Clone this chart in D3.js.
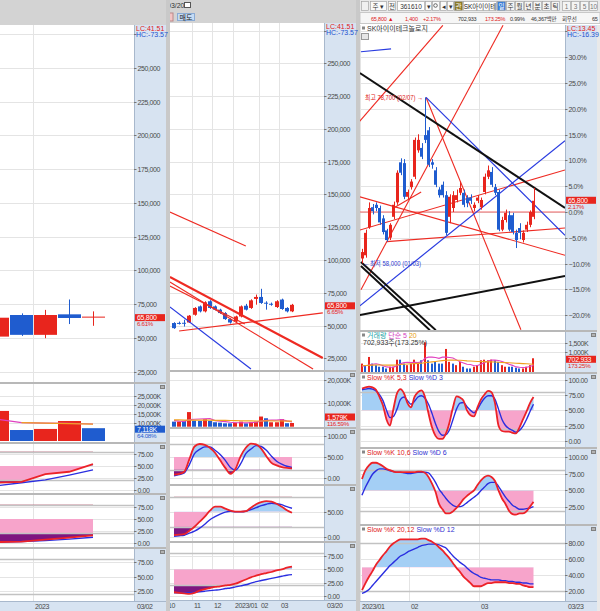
<!DOCTYPE html>
<meta charset="utf-8">
<script src="https://d3js.org/d3.v7.min.js"></script>
<style>
  body { margin: 0; background: #fff; }
  text { font-family: "Liberation Sans", "Noto Sans CJK KR", sans-serif; font-size: 7px; }
  .lbl { fill: #4a4a4a; letter-spacing: -0.4px; }
</style>
<div id="chart"></div>
<script>
// ---------- data: left (long period) ----------
var lOpen  = [51000, 67000, 52300, 67500, 65300];
var lHigh  = [66500, 68200, 70800, 78500, 69700];
var lLow   = [50500, 51500, 49800, 60300, 59000];
var lClose = [65000, 52300, 67000, 64800, 65800];
var lVol   = [16700, 6100, 6700, 11100, 7118];
var lVolUp = [1, 0, 1, 1, 0];
var lVolMa5  = [12100, 10200, 9950, 9750, 9450];
var lVolMa20 = [null, 10200, 9900, 9700, 9400];
var lK1 = [15, 17, 33, 38, 54], lD1 = [9, 15, 21, 31, 42];
var lK2 = [2, 3, 7, 11, 16],    lD2 = [2, 3, 5, 8, 12];

// ---------- data: middle (weekly) ----------
var mOpen  = [51900, 52000, 52100, 52300, 58200, 64600, 60800, 68500, 64600, 62100, 59500, 54900, 53100, 56900, 65100, 63400, 70300, 71800, 67400, 66600, 64100, 69800, 63400, 60800];
var mHigh  = [52500, 53000, 54400, 58000, 64000, 65300, 68500, 69300, 65300, 62800, 60200, 55600, 57500, 65300, 66500, 70000, 73600, 78000, 68500, 67500, 69300, 70500, 64000, 66500];
var mLow   = [47500, 50800, 49200, 52000, 57500, 60000, 60000, 62700, 61500, 58900, 54300, 51500, 52300, 56200, 61500, 62700, 65900, 66500, 62100, 65100, 63400, 62000, 60000, 60200];
var mClose = [48000, 51700, 51800, 57500, 63400, 60800, 67700, 63400, 62100, 59500, 54900, 52300, 56900, 64600, 62100, 69200, 71800, 67200, 67100, 66300, 68500, 62600, 60800, 65800];
var mVol     = [2170, 2170, 2480, 6260, 2610, 2480, 3190, 2480, 1900, 1740, 1450, 1450, 1740, 2170, 1450, 1900, 2170, 4350, 3620, 1900, 1900, 3190, 1500, 1579];
var mVolUp   = [0, 1, 0, 1, 0, 0, 1, 0, 0, 0, 0, 0, 1, 1, 0, 1, 1, 1, 0, 1, 1, 1, 0, 1];
var mVolMa5  = [2600, 2400, 2300, 3000, 3200, 3300, 3400, 3500, 2600, 2400, 2200, 1900, 1700, 1700, 1650, 1750, 1900, 2350, 2700, 2800, 2800, 3000, 2500, 2100];
var mVolMa20 = [2900, 2900, 2850, 2850, 2850, 2800, 2800, 2800, 2750, 2750, 2700, 2650, 2600, 2550, 2500, 2500, 2450, 2450, 2500, 2500, 2450, 2450, 2400, 2400];
var mK1 = [8, 10, 15, 45, 75, 81, 79, 72, 60, 42, 24, 10, 22, 52, 72, 82, 80, 70, 52, 36, 30, 26, 24, 23];
var mD1 = [5, 8, 12, 32, 58, 68, 74, 74, 66, 56, 42, 25, 19, 34, 58, 69, 77, 75, 66, 52, 40, 33, 28, 25];
var mK2 = [3, 4, 5, 12, 20, 30, 40, 52, 60, 60, 56, 52, 50, 50, 51, 58, 65, 69, 71, 70, 66, 60, 53, 48];
var mD2 = [1, 2, 3, 7, 11, 17, 25, 34, 40, 45, 49, 51, 50, 50, 51, 54, 58, 62, 65, 67, 66, 64, 60, 57];
var mK3 = [7, 6, 5, 4, 6, 10, 13, 15, 17, 18, 20, 21, 23, 27, 31, 35, 38, 41, 43, 45, 48, 50, 53, 55];
var mD3 = [6, 6, 6, 6, 7, 8, 9, 10, 11, 12, 14, 15, 17, 19, 21, 24, 27, 29, 31, 33, 35, 37, 39, 40];
// trend lines: [index1, price1, index2, price2]
var mRedLines  = [[-0.8, 136600, 14.0, 110600], [-0.8, 83200, 27.1, 16800], [-0.8, 80100, 13.8, 51200], [1.0, 45800, 29.0, 59600]];
var mRedThick  = [[-0.8, 87000, 29.0, 25200]];
var mBlueLines = [[-0.8, 64100, 15.0, 16800]];

// ---------- data: right (daily) ----------
var rOpen  = [58600, 59000, 62500, 65000, 65300, 64900, 63600, 62100, 61200, 63800, 65600, 70600, 70500, 66300, 67500, 68800, 72100, 72400, 74000, 74600, 70600, 69600, 67200, 67800, 66500, 63800, 64900, 65900, 66800, 66800, 66200, 66200, 64900, 65800, 65000, 66900, 68800, 69400, 67500, 66900, 62200, 63400, 64000, 64000, 61800, 62400, 60900, 62200, 62800, 63800];
var rHigh  = [59800, 62200, 65600, 65400, 65600, 65200, 64000, 62300, 63000, 65700, 69600, 71100, 71000, 67200, 68500, 73700, 74100, 73000, 78700, 75000, 71000, 70000, 67500, 68200, 67000, 66600, 67000, 67200, 68200, 67200, 66500, 66600, 65600, 66500, 66200, 69200, 70200, 70000, 67900, 67200, 63800, 64700, 64500, 64300, 62200, 63000, 62100, 63200, 64600, 67400];
var rLow   = [58000, 58700, 62300, 64100, 64500, 62800, 61600, 60700, 60900, 63500, 65300, 69000, 66000, 66000, 67200, 68500, 71800, 71000, 73000, 70000, 69800, 67500, 66200, 66200, 61500, 63000, 64400, 65600, 66500, 65000, 65000, 65400, 64500, 65500, 64700, 66600, 68500, 67500, 66500, 62000, 62000, 63100, 62000, 61600, 59900, 61000, 60600, 61900, 62500, 63500];
var rClose = [59400, 61800, 64900, 64500, 64900, 63100, 61900, 60900, 62800, 65300, 69300, 69300, 66300, 66900, 68200, 73400, 73400, 71300, 73400, 70300, 70300, 67800, 66500, 66500, 61800, 66300, 66500, 66500, 67400, 65300, 65500, 65800, 65300, 66200, 65900, 68800, 69600, 67800, 66800, 62200, 63400, 64300, 62200, 61900, 60900, 61800, 61800, 62800, 64400, 65800];
var rVol     = [430, 350, 770, 430, 350, 270, 270, 180, 270, 270, 630, 630, 430, 350, 430, 630, 430, 600, 1520, 600, 430, 520, 430, 430, 1180, 520, 430, 350, 520, 270, 180, 180, 270, 350, 600, 630, 600, 630, 600, 520, 350, 270, 270, 270, 220, 180, 180, 270, 350, 703];
var rVolUp   = [1, 0, 1, 0, 0, 0, 0, 0, 1, 1, 1, 0, 0, 1, 1, 1, 1, 0, 1, 0, 0, 0, 0, 0, 1, 1, 0, 1, 1, 0, 0, 0, 1, 1, 1, 1, 1, 1, 0, 0, 1, 1, 0, 0, 0, 0, 1, 1, 1, 1];
var rVolMa5  = [300, 320, 360, 400, 420, 380, 320, 260, 240, 250, 320, 420, 480, 500, 490, 500, 480, 520, 700, 760, 760, 740, 700, 760, 760, 740, 720, 620, 520, 460, 400, 380, 320, 330, 400, 480, 560, 610, 610, 590, 540, 470, 400, 340, 260, 240, 230, 240, 280, 350];
var rVolMa20 = [320, 330, 340, 350, 360, 360, 360, 350, 350, 350, 360, 380, 400, 410, 420, 430, 440, 450, 480, 500, 520, 540, 560, 580, 600, 610, 610, 600, 600, 590, 570, 560, 550, 540, 540, 530, 520, 520, 510, 500, 490, 480, 470, 460, 450, 440, 430, 420, 410, 400];
var rK1 = [86, 88, 89, 88, 84, 72, 58, 35, 25, 53, 78, 85, 78, 62, 55, 72, 80, 83, 72, 45, 22, 8, 3, 3, 12, 30, 55, 73, 71, 66, 50, 42, 40, 55, 68, 76, 82, 80, 62, 25, 16, 15, 15, 13, 12, 22, 35, 48, 62, 72];
var rD1 = [84, 85, 86, 85, 82, 76, 66, 50, 38, 40, 52, 68, 72, 66, 60, 65, 72, 74, 70, 60, 45, 28, 15, 9, 10, 18, 35, 52, 62, 63, 56, 50, 46, 52, 62, 70, 74, 74, 68, 52, 35, 25, 20, 17, 14, 17, 24, 35, 48, 60];
var rK2 = [67, 80, 87, 91, 91, 89, 86, 82, 80, 78, 77, 77, 77, 77, 77, 77, 78, 78, 76, 70, 60, 48, 30, 22, 16, 16, 19, 24, 30, 37, 42, 46, 50, 58, 65, 70, 72, 70, 64, 50, 38, 30, 20, 15, 14, 16, 16, 19, 26, 33];
var rD2 = [43, 55, 65, 74, 79, 82, 82, 81, 79, 78, 77, 77, 76, 75, 75, 76, 77, 77, 77, 76, 70, 62, 52, 45, 38, 32, 28, 26, 26, 28, 32, 36, 40, 44, 50, 55, 60, 62, 62, 56, 48, 40, 34, 28, 25, 22, 22, 23, 24, 26];
var rK3 = [21, 30, 38, 45, 53, 59, 65, 70, 76, 80, 83, 85, 85, 85, 85, 85, 85, 86, 86, 84, 82, 79, 75, 71, 66, 61, 55, 49, 44, 38, 34, 30, 26, 26, 26, 28, 30, 30, 31, 31, 31, 31, 30, 30, 29, 29, 27, 26, 25, 25];
var rD3 = [17, 19, 22, 27, 32, 37, 42, 47, 52, 56, 60, 64, 66, 69, 71, 73, 75, 77, 78, 79, 79, 79, 78, 76, 74, 69, 64, 60, 56, 53, 49, 45, 42, 40, 37, 36, 35, 34, 34, 34, 33, 33, 32, 32, 31, 31, 30, 30, 29, 29];
var rBase = 64400; // previous close = 0.0%
var rRedLines   = [[-1.1, 75500, 23.1, 87700], [-0.3, 54700, 40.3, 87700], [18.3, 78700, 45.4, 49700], [-0.6, 66300, 58, 59000], [7.1, 60700, 58, 62400], [-0.6, 62150, 58, 69650], [9.4, 65000, 16.9, 66900]];
var rBlueLines  = [[18.3, 78700, 58, 61500], [-0.6, 52700, 58, 73300], [-0.3, 84400, 8.3, 84750]];
var rBlackLines = [[-0.6, 81750, 58, 64900], [-0.6, 51550, 58, 56400], [-0.3, 58150, 21.1, 49650], [-0.3, 57650, 19.4, 49650]];

// tick labels / month marks
var priceTicks = d3.range(25000, 275001, 25000);
var pctTicks = d3.range(-20, 36, 5);
var lMonthIdx = [2], lMonthLbl = ["2023"];
var mMonthIdx = [-1, 4, 8, 12, 17, 21], mMonthLbl = ["10", "11", "12", "2023/01", "02", "03"];
var rMonthIdx = [0, 14, 34], rMonthLbl = ["2023/01", "02", "03"];

// ---------- layout ----------
var UP = "#e8251d", DN = "#1f5ccf", STRIP = "#d7e3f1", GRID = "#e4e4e4", LEVEL = "#c2c2c2", SEP = "#b8b8b8";
var L = {x0: 0,   x1: 134, s1: 166, price: [25, 382], vol: [384, 442], st: [[444, 493], [495, 547], [549, 601]], axis: [601, 611]};
var M = {x0: 170, x1: 324, s1: 356, price: [23, 370], vol: [372, 427], st: [[429, 484], [486, 541], [543, 600]], axis: [600, 611]};
var R = {x0: 360, x1: 565, s1: 597, price: [25, 330], vol: [332, 372], st: [[374, 447], [449, 524], [526, 601]], axis: [601, 611]};

var xL = d3.scaleLinear().domain([0, 4]).range([-2.3, 93]);
var xM = d3.scaleLinear().domain([0, 23]).range([174, 292]);
var xR = d3.scaleLinear().domain([0, 49]).range([362, 533.5]);

var yLp = d3.scaleLinear().domain([25000, 250000]).range([371.7, 68]);
var yLv = d3.scaleLinear().domain([0, 25000]).range([441, 396]);
var yLs = [d3.scaleLinear().domain([0, 75]).range([490, 454]),
           d3.scaleLinear().domain([0, 75]).range([543, 507]),
           d3.scaleLinear().domain([25, 75]).range([591, 562])];
var yMp = d3.scaleLinear().domain([25000, 250000]).range([358.3, 63.3]);
var yMv = d3.scaleLinear().domain([0, 20000]).range([426.7, 380]);
var yMs = [d3.scaleLinear().domain([0, 100]).range([478, 436]),
           d3.scaleLinear().domain([0, 100]).range([536.7, 486.7]),
           d3.scaleLinear().domain([0, 75]).range([596, 556])];
var yRp = d3.scaleLinear().domain([rBase * 0.8, rBase * 1.3]).range([315.2, 57.2]);
var yRv = d3.scaleLinear().domain([0, 1500]).range([372, 342.7]);
var yRs = [d3.scaleLinear().domain([0, 100]).range([440.7, 380]),
           d3.scaleLinear().domain([25, 100]).range([507.3, 456.7]),
           d3.scaleLinear().domain([20, 80]).range([591, 543.3])];

var svg = d3.select("#chart").append("svg").attr("width", 600).attr("height", 611);
svg.append("rect").attr("width", 600).attr("height", 611).attr("fill", "#fff");
var defs = svg.append("defs");
var clipN = 0;
function clip(x, y, w, h) {
  var id = "cp" + (clipN++);
  defs.append("clipPath").attr("id", id).append("rect")
    .attr("x", x).attr("y", y).attr("width", w).attr("height", Math.max(0, h));
  return "url(#" + id + ")";
}
function plotG(P, yr) {
  return svg.append("g").attr("clip-path", clip(P.x0, yr[0], P.x1 - P.x0, yr[1] - yr[0]));
}

function frame(P) {
  svg.append("rect").attr("x", P.x1).attr("y", P.price[0]).attr("width", P.s1 - P.x1)
    .attr("height", P.axis[0] - P.price[0]).attr("fill", STRIP);
  svg.append("rect").attr("x", P.x0).attr("y", P.axis[0]).attr("width", P.s1 - P.x0)
    .attr("height", P.axis[1] - P.axis[0]).attr("fill", STRIP);
  svg.append("line").attr("x1", P.x1 + 0.5).attr("x2", P.x1 + 0.5)
    .attr("y1", P.price[0]).attr("y2", P.axis[0]).attr("stroke", "#a8b8cc");
}
function separators(P) {
  [P.price[1], P.vol[1], P.st[0][1], P.st[1][1]].forEach(function(y) {
    svg.append("rect").attr("x", P.x0).attr("y", y).attr("width", P.s1 - P.x0).attr("height", 2).attr("fill", SEP);
  });
  svg.append("line").attr("x1", P.x0).attr("x2", P.s1).attr("y1", P.axis[0] + 0.5).attr("y2", P.axis[0] + 0.5)
    .attr("stroke", "#a8b8cc");
  [P.vol[0], P.st[0][0], P.st[1][0], P.st[2][0]].forEach(function(y) {
    svg.append("rect").attr("x", P.s1 - 6).attr("y", y + 1).attr("width", 5).attr("height", 4).attr("fill", "#808080");
    svg.append("line").attr("x1", P.s1 - 5).attr("x2", P.s1 - 2).attr("y1", y + 3).attr("y2", y + 3)
      .attr("stroke", "#fff").attr("stroke-width", 0.8);
  });
}
function months(P, xs, off, idx, lbl, endLbl) {
  var g = svg.append("g").attr("clip-path", clip(P.x0, 0, P.x1 - P.x0, 611));
  idx.forEach(function(i, k) {
    var x = Math.round(xs(i) + off) + 0.5;
    g.append("line").attr("x1", x).attr("x2", x).attr("y1", P.price[0]).attr("y2", P.axis[0])
      .attr("stroke", GRID);
    g.append("text").attr("class", "lbl").attr("x", x + 1.5).attr("y", P.axis[0] + 7.5).text(lbl[k]);
  });
  svg.append("text").attr("class", "lbl").attr("x", P.x1 + 3).attr("y", P.axis[0] + 7.5).text(endLbl);
}
function yAxis(P, yr, ys, vals, fmt, showVals) {
  vals.forEach(function(v) {
    var y = Math.round(ys(v)) + 0.5;
    if (y < yr[0] + 1 || y > yr[1] - 1) return;
    svg.append("line").attr("x1", P.x0).attr("x2", P.x1).attr("y1", y).attr("y2", y).attr("stroke", GRID);
    svg.append("line").attr("x1", P.x1).attr("x2", P.x1 + 2.5).attr("y1", y).attr("y2", y).attr("stroke", "#777");
    if (!showVals || showVals.indexOf(v) >= 0)
      svg.append("text").attr("class", "lbl").attr("x", P.x1 + 3.5).attr("y", y + 2.2).text(fmt(v));
  });
}
function candles(g, xs, ys, o, h, l, c, bw) {
  var idx = d3.range(o.length);
  var col = function(i) { return c[i] >= o[i] ? UP : DN; };
  g.selectAll(null).data(idx).enter().append("line")
    .attr("x1", function(i) { return Math.round(xs(i)) + 0.5; })
    .attr("x2", function(i) { return Math.round(xs(i)) + 0.5; })
    .attr("y1", function(i) { return ys(h[i]); })
    .attr("y2", function(i) { return ys(l[i]); })
    .attr("stroke", col);
  g.selectAll(null).data(idx).enter().append("rect")
    .attr("x", function(i) { return Math.round(xs(i) - bw / 2); })
    .attr("y", function(i) { return ys(Math.max(o[i], c[i])); })
    .attr("width", Math.round(bw))
    .attr("height", function(i) { return Math.max(1, Math.abs(ys(o[i]) - ys(c[i]))); })
    .attr("fill", col);
}
function volBars(g, xs, ys, v, up, bw) {
  g.selectAll(null).data(d3.range(v.length)).enter().append("rect")
    .attr("x", function(i) { return Math.round(xs(i) - bw / 2); })
    .attr("y", function(i) { return ys(v[i]); })
    .attr("width", Math.round(bw))
    .attr("height", function(i) { return ys(0) - ys(v[i]); })
    .attr("fill", function(i) { return up[i] ? UP : DN; });
}
function series(g, xs, ys, vals, color, w, curve) {
  var line = d3.line().defined(function(i) { return vals[i] != null; })
    .x(function(i) { return xs(i); }).y(function(i) { return ys(vals[i]); })
    .curve(curve || d3.curveLinear);
  g.append("path").attr("d", line(d3.range(vals.length))).attr("fill", "none")
    .attr("stroke", color).attr("stroke-width", w);
}
function trends(g, xs, ys, arr, color, w) {
  g.selectAll(null).data(arr).enter().append("line")
    .attr("x1", function(d) { return xs(d[0]); }).attr("y1", function(d) { return ys(d[1]); })
    .attr("x2", function(d) { return xs(d[2]); }).attr("y2", function(d) { return ys(d[3]); })
    .attr("stroke", color).attr("stroke-width", w);
}
function stoch(P, yr, xs, ys, k, d, ticks, extra, curve) {
  var w = P.x1 - P.x0;
  yAxis(P, yr, ys, ticks, d3.format(".2f"));
  var g = plotG(P, yr);
  var idx = d3.range(k.length);
  var area = function(b) {
    return d3.area().x(function(i) { return xs(i); }).y0(ys(b))
      .y1(function(i) { return ys(k[i]); }).curve(curve)(idx);
  };
  var y50 = ys(50), y20 = ys(20), y80 = ys(80);
  g.append("path").attr("d", area(50)).attr("fill", "#a4cff5").attr("clip-path", clip(P.x0, yr[0], w, y50 - yr[0]));
  g.append("path").attr("d", area(50)).attr("fill", "#f7a4cb").attr("clip-path", clip(P.x0, y50, w, yr[1] - y50));
  if (extra) {
    g.append("path").attr("d", area(20)).attr("fill", "#7e1680").attr("clip-path", clip(P.x0, y20, w, yr[1] - y20));
    g.append("path").attr("d", area(80)).attr("fill", "#9e0b2e").attr("clip-path", clip(P.x0, yr[0], w, y80 - yr[0]));
  }
  [80, 20].forEach(function(v) {
    var y = Math.round(ys(v)) + 0.5;
    if (y > yr[0] && y < yr[1])
      g.append("line").attr("x1", P.x0).attr("x2", P.x1).attr("y1", y).attr("y2", y)
        .attr("stroke", LEVEL).attr("stroke-width", 1.5);
  });
  series(g, xs, ys, d, "#2a2ee0", 1.4, curve);
  series(g, xs, ys, k, "#ec2228", 1.8, curve);
}
function valueBox(P, y, yr, txt, sub, color) {
  y = Math.min(y + 1, yr[1] - 10);
  svg.append("rect").attr("x", P.x1 + 1).attr("y", y - 3.5).attr("width", P.s1 - P.x1 - 2).attr("height", 7).attr("fill", color);
  svg.append("text").attr("x", P.x1 + 3).attr("y", y + 2.5).attr("fill", "#fff").style("letter-spacing", "-0.3px").text(txt);
  svg.append("text").attr("x", P.x1 + 3).attr("y", y + 8.5).attr("fill", color)
    .style("font-size", "6.2px").style("letter-spacing", "-0.3px").text(sub);
}
function lchc(P, lc, hc) {
  svg.append("text").attr("x", P.x1 + 2).attr("y", P.price[0] + 6).attr("fill", "#e02020").text(lc);
  svg.append("text").attr("x", P.x1 + 2).attr("y", P.price[0] + 12).attr("fill", "#2050d0").text(hc);
}
var fmtP = d3.format(","), fmtK = function(v) { return d3.format(",")(v) + "K"; };

// ---------- panels frame ----------
[L, M, R].forEach(frame);
svg.append("rect").attr("x", 166).attr("y", 0).attr("width", 4).attr("height", 611).attr("fill", "#c9c9c9");
svg.append("rect").attr("x", 356).attr("y", 0).attr("width", 4).attr("height", 611).attr("fill", "#c9c9c9");
svg.append("rect").attr("x", 597).attr("y", 25).attr("width", 3).attr("height", 586).attr("fill", "#e9e9e9");

months(L, xL, -11.9, lMonthIdx, lMonthLbl, "03/02");
months(M, xM, -2.56, mMonthIdx, mMonthLbl, "03/20");
months(R, xR, -1.75, rMonthIdx, rMonthLbl, "03/23");

// ---------- left panel ----------
yAxis(L, L.price, yLp, priceTicks, fmtP, d3.range(25000, 250001, 25000));
var g = plotG(L, L.price);
candles(g, xL, yLp, lOpen, lHigh, lLow, lClose, 22.5);
yAxis(L, L.vol, yLv, [10000, 15000, 20000, 25000], fmtK);
g = plotG(L, L.vol);
volBars(g, xL, yLv, lVol, lVolUp, 22.5);
series(g, xL, yLv, lVolMa5, "#e040c0", 1.2);
series(g, xL, yLv, lVolMa20, "#f0a020", 1.2);
stoch(L, L.st[0], xL, yLs[0], lK1, lD1, [0, 25, 50, 75], true, d3.curveLinear);
stoch(L, L.st[1], xL, yLs[1], lK2, lD2, [0, 25, 50, 75], true, d3.curveLinear);
yAxis(L, L.st[2], yLs[2], [25, 50, 75], d3.format(".2f"));
[80, 20].forEach(function(v) {
  var y = Math.round(yLs[2](v)) + 0.5;
  if (y > L.st[2][0] && y < L.st[2][1])
    svg.append("line").attr("x1", L.x0).attr("x2", L.x1).attr("y1", y).attr("y2", y).attr("stroke", LEVEL).attr("stroke-width", 1.5);
});
lchc(L, "LC:41.51", "HC:-73.57");
valueBox(L, yLp(lClose[4]), L.price, "65,800", "6.61%", UP);
valueBox(L, yLv(lVol[4]), L.vol, "7,118K", "64.08%", lVolUp[4] ? UP : DN);
separators(L);

// ---------- middle panel ----------
yAxis(M, M.price, yMp, priceTicks, fmtP, d3.range(25000, 250001, 25000));
g = plotG(M, M.price);
candles(g, xM, yMp, mOpen, mHigh, mLow, mClose, 4);
trends(g, xM, yMp, mRedLines, "#ee2a22", 1.2);
trends(g, xM, yMp, mRedThick, "#ee2a22", 2.2);
trends(g, xM, yMp, mBlueLines, "#2a3ce0", 1.2);
yAxis(M, M.vol, yMv, [10000, 20000], fmtK);
g = plotG(M, M.vol);
volBars(g, xM, yMv, mVol, mVolUp, 4.2);
series(g, xM, yMv, mVolMa5, "#e040c0", 1.2);
series(g, xM, yMv, mVolMa20, "#f0a020", 1.2);
stoch(M, M.st[0], xM, yMs[0], mK1, mD1, [0, 50, 100], true, d3.curveMonotoneX);
stoch(M, M.st[1], xM, yMs[1], mK2, mD2, [0, 50], true, d3.curveMonotoneX);
stoch(M, M.st[2], xM, yMs[2], mK3, mD3, [0, 25, 50, 75], true, d3.curveMonotoneX);
lchc(M, "LC:41.51", "HC:-73.57");
valueBox(M, yMp(mClose[23]), M.price, "65,800", "6.65%", UP);
valueBox(M, yMv(mVol[23]), M.vol, "1,579K", "116.59%", mVolUp[23] ? UP : DN);
separators(M);

// ---------- right panel ----------
yAxis(R, R.price, function(p) { return yRp(rBase * (1 + p / 100)); }, pctTicks,
  function(p) { return d3.format(".1f")(p) + "%"; }, d3.range(-20, 31, 5));
g = plotG(R, R.price);
g.append("line").attr("x1", R.x0).attr("x2", R.x1).attr("y1", yRp(rBase)).attr("y2", yRp(rBase))
  .attr("stroke", "#ee4040").attr("stroke-width", 0.8);
trends(g, xR, yRp, rRedLines, "#ee2a22", 1.1);
trends(g, xR, yRp, rBlueLines, "#2a3ce0", 1.2);
trends(g, xR, yRp, rBlackLines, "#111", 2);
candles(g, xR, yRp, rOpen, rHigh, rLow, rClose, 3);
g.append("text").attr("x", xR(18) - 2).attr("y", yRp(78700) + 2.3).attr("text-anchor", "end")
  .attr("fill", "#e02020").attr("textLength", 58).attr("lengthAdjust", "spacingAndGlyphs")
  .text("최고 78,700 (02/07) →");
g.append("text").attr("x", xR(0) + 2).attr("y", yRp(58000) + 2.3)
  .attr("fill", "#3040d0").attr("textLength", 57).attr("lengthAdjust", "spacingAndGlyphs")
  .text("←최저 58,000 (01/03)");
yAxis(R, R.vol, yRv, [1000, 1500], fmtK);
g = plotG(R, R.vol);
volBars(g, xR, yRv, rVol, rVolUp, 2.2);
series(g, xR, yRv, rVolMa5, "#e040c0", 1.1);
series(g, xR, yRv, rVolMa20, "#f0a020", 1.1);
stoch(R, R.st[0], xR, yRs[0], rK1, rD1, [0, 25, 50, 75, 100], false, d3.curveMonotoneX);
stoch(R, R.st[1], xR, yRs[1], rK2, rD2, [25, 50, 75, 100], false, d3.curveMonotoneX);
stoch(R, R.st[2], xR, yRs[2], rK3, rD3, [20, 40, 60, 80], false, d3.curveMonotoneX);
lchc(R, "LC:13.45", "HC:-16.39");
valueBox(R, yRp(rClose[49]) - 1.5, R.price, "65,800", "2.17%", UP);
valueBox(R, yRv(rVol[49]), R.vol, "702,933", "173.25%", rVolUp[49] ? UP : DN);
separators(R);

// panel titles
function titleRow(y, parts) {
  svg.append("rect").attr("x", 362).attr("y", y - 4.5).attr("width", 3).attr("height", 3).attr("fill", "#888");
  var t = svg.append("text").attr("x", 367).attr("y", y);
  parts.forEach(function(p) { t.append("tspan").attr("fill", p[1]).text(p[0]); });
}
titleRow(R.price[0] + 6, [["SK아이이테크놀로지", "#333"]]);
svg.append("rect").attr("x", 361.5).attr("y", 33.5).attr("width", 7).attr("height", 6).attr("fill", "#e6e6e6").attr("stroke", "#999");
titleRow(R.vol[0] + 6, [["거래량 ", "#1aa3a8"], ["단순 5 ", "#d43cc0"], ["20", "#e8a010"]]);
svg.append("text").attr("x", 363).attr("y", R.vol[0] + 13).attr("fill", "#333").text("702,933주(173.25%)");
titleRow(R.st[0][0] + 6, [["Slow %K 5,3  ", "#e02020"], ["Slow %D 3", "#3030d0"]]);
titleRow(R.st[1][0] + 6, [["Slow %K 10,6  ", "#e02020"], ["Slow %D 6", "#3030d0"]]);
titleRow(R.st[2][0] + 6, [["Slow %K 20,12  ", "#e02020"], ["Slow %D 12", "#3030d0"]]);

// ---------- headers ----------
svg.append("rect").attr("x", 0).attr("y", 0).attr("width", 166).attr("height", 25).attr("fill", "#d3d3d3");
svg.append("rect").attr("x", 170).attr("y", 0).attr("width", 186).attr("height", 23).attr("fill", "#d3d3d3");
var hg = svg.append("g").attr("clip-path", clip(170, 0, 186, 23));
hg.append("text").attr("x", 167).attr("y", 8).attr("fill", "#333").text("03/20");
hg.append("rect").attr("x", 184.5).attr("y", 2.5).attr("width", 6).attr("height", 5).attr("fill", "#fff").attr("stroke", "#555");
hg.append("rect").attr("x", 166).attr("y", 13).attr("width", 7).attr("height", 8).attr("fill", "#f3c4c4").attr("stroke", "#b88");
hg.append("rect").attr("x", 177.5).attr("y", 13.5).attr("width", 17).attr("height", 7).attr("fill", "#c4dbf4").attr("stroke", "#8aaad4");
hg.append("text").attr("x", 186).attr("y", 19.5).attr("text-anchor", "middle").attr("fill", "#222").text("매도");

// right toolbar
svg.append("rect").attr("x", 360).attr("y", 0).attr("width", 240).attr("height", 12).attr("fill", "#e9e9e9");
svg.append("rect").attr("x", 360).attr("y", 12.5).attr("width", 240).attr("height", 11).attr("fill", "#f6f6f6").attr("stroke", "#c8c8c8");
function btn(x, w, label, bg, fg) {
  svg.append("rect").attr("x", x + 0.5).attr("y", 1.5).attr("width", w).attr("height", 9).attr("fill", bg)
    .attr("stroke", "#9c9c9c").attr("stroke-width", 0.6);
  if (label) svg.append("text").attr("x", x + 0.5 + w / 2).attr("y", 8.5).attr("text-anchor", "middle")
    .attr("fill", fg).style("font-size", "6.5px").text(label);
}
btn(361, 7, "", "#f0f0f0", "#333");
btn(370, 16, "주 ▾", "#fafafa", "#333");
btn(388, 7, "전", "#fafafa", "#333");
btn(397, 27, "361610", "#fff", "#333");
btn(425, 6, "▾", "#fafafa", "#333");
btn(432, 7, "", "#fafafa", "#333");
svg.append("circle").attr("cx", 435.5).attr("cy", 5.5).attr("r", 1.8).attr("fill", "none").attr("stroke", "#333").attr("stroke-width", 0.7);
btn(440, 6, "◂", "#fafafa", "#333");
btn(447, 6, "▾", "#fafafa", "#333");
btn(454, 8, "관", "#8c7a28", "#fff");
btn(463, 33, "SK아이이테", "#fff", "#222");
btn(497, 8, "일", "#3a7ed8", "#fff");
["주", "월", "년", "분", "초", "틱"].forEach(function(t, i) { btn(506 + i * 9, 8, t, "#f4f4f4", "#333"); });
["1", "3", "5", "10"].forEach(function(t, i) { btn(562 + i * 9, 8, t, "#f4f4f4", "#777"); });
// info row: [text, x, colour]
var info = [["65,800 ▲", 371, "#e02020"], ["1,400", 405, "#e02020"], ["+2.17%", 423, "#e02020"],
            ["702,933", 458, "#333"], ["173.25%", 485, "#e02020"], ["0.99%", 510, "#333"],
            ["46,367백만", 531, "#333"], ["회우선", 562, "#333"], ["65", 592, "#333"]];
info.forEach(function(d) {
  svg.append("text").attr("x", d[1]).attr("y", 21).attr("fill", d[2])
    .style("font-size", "5.5px").style("letter-spacing", "-0.2px").text(d[0]);
});
</script>
